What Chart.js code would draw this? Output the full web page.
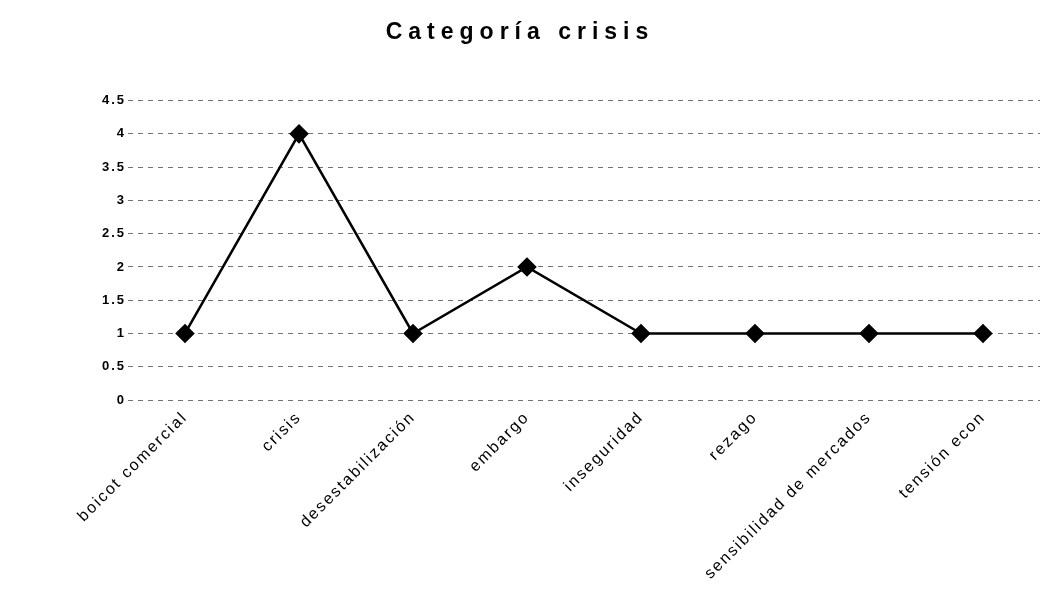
<!DOCTYPE html>
<html>
<head>
<meta charset="utf-8">
<script src="https://cdn.jsdelivr.net/npm/chart.js@4"></script>
<style>
  html, body { margin: 0; padding: 0; background: #fff; }
  #wrap { width: 1056px; height: 590px; position: relative; }
</style>
</head>
<body>
<div id="wrap"><canvas id="crisisChart"></canvas></div>
<script>
// Categoría crisis - line chart
const categories = ['boicot comercial', 'crisis', 'desestabilización', 'embargo', 'inseguridad', 'rezago', 'sensibilidad de mercados', 'tensión econ'];
const values = [1, 4, 1, 2, 1, 1, 1, 1];
const yMin = 0;
const yMax = 4.5;
const yStep = 0.5;

// the scanned original has widely spaced letters: title gets wide spacing, tick labels a little
const letterSpacing = {
  id: 'letterSpacing',
  beforeDraw(chart) { chart.ctx.letterSpacing = '6px'; },
  afterDatasetsDraw(chart) { chart.ctx.letterSpacing = '2px'; },
  afterDraw(chart) { chart.ctx.letterSpacing = '0px'; }
};

function createCrisisChart() {
  const ctx = document.getElementById('crisisChart').getContext('2d');

  return new Chart(ctx, {
    type: 'line',
    data: {
      labels: categories,
      datasets: [{
        label: 'crisis',
        data: values,
        borderColor: '#000',
        backgroundColor: '#000',
        borderWidth: 2.5,
        pointStyle: 'rectRot',
        pointRadius: 8,
        pointHoverRadius: 8,
        pointBackgroundColor: '#000',
        pointBorderColor: '#000',
        tension: 0,
        fill: false
      }]
    },
    options: {
      responsive: true,
      maintainAspectRatio: false,
      animation: false,
      layout: {
        padding: { left: 0, right: 16, top: 0, bottom: 0 }
      },
      plugins: {
        legend: { display: false },
        tooltip: { enabled: false },
        title: {
          display: true,
          text: 'Categoría crisis',
          color: '#000',
          font: { family: 'Liberation Sans, Arial, sans-serif', size: 23, weight: 'bold' },
          padding: { top: 19, bottom: 54 }
        }
      },
      scales: {
        x: {
          offset: true,
          grid: { display: false },
          border: { display: false },
          afterFit: function(scale) { scale.height = 190; },
          ticks: {
            z: 1,
            color: '#000',
            autoSkip: false,
            minRotation: 45,
            maxRotation: 45,
            padding: 0,
            font: { family: 'Liberation Sans, Arial, sans-serif', size: 16 }
          }
        },
        y: {
          min: yMin,
          max: yMax,
          afterFit: function(scale) { scale.width = 128; },
          grid: {
            color: 'rgba(0, 0, 0, 0.55)',
            lineWidth: 1,
            drawTicks: false
          },
          border: { display: false, dash: [5, 5] },
          ticks: {
            z: 1,
            stepSize: yStep,
            color: '#000',
            padding: 2,
            font: { family: 'Liberation Sans, Arial, sans-serif', size: 13, weight: 'bold' },
            callback: function(value) {
              return String(value);
            }
          }
        }
      }
    },
    plugins: [letterSpacing]
  });
}

document.addEventListener('DOMContentLoaded', function() {
  if (document.getElementById('crisisChart')) {
    createCrisisChart();
  }
});
</script>
</body>
</html>
